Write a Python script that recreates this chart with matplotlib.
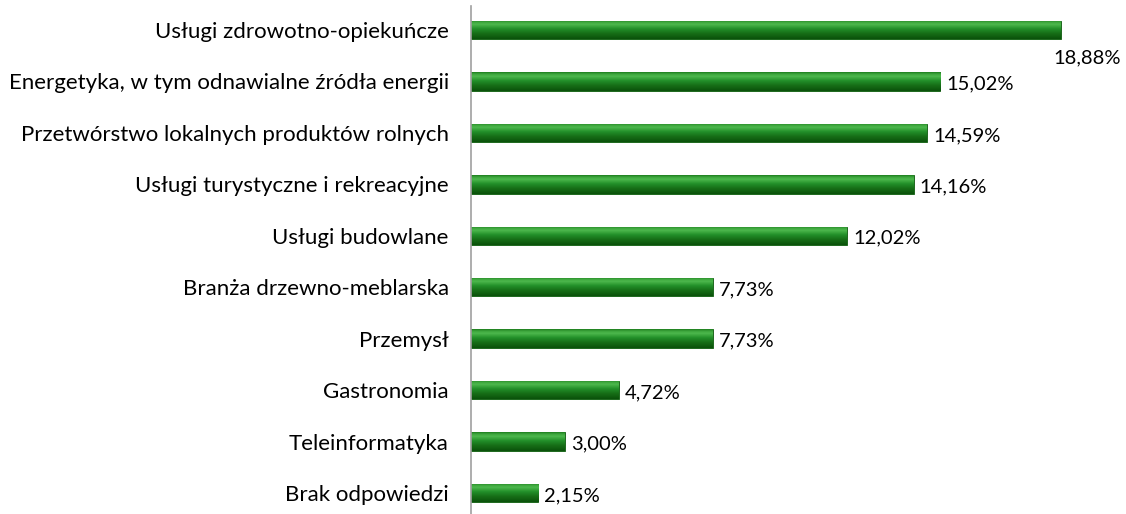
import numpy as np
import matplotlib
matplotlib.use("Agg")
import matplotlib.pyplot as plt
from matplotlib.colors import LinearSegmentedColormap

categories = [
    "Usługi zdrowotno-opiekuńcze",
    "Energetyka, w tym odnawialne źródła energii",
    "Przetwórstwo lokalnych produktów rolnych",
    "Usługi turystyczne i rekreacyjne",
    "Usługi budowlane",
    "Branża drzewno-meblarska",
    "Przemysł",
    "Gastronomia",
    "Teleinformatyka",
    "Brak odpowiedzi",
]
values = [18.88, 15.02, 14.59, 14.16, 12.02, 7.73, 7.73, 4.72, 3.00, 2.15]
labels = ["18,88%", "15,02%", "14,59%", "14,16%", "12,02%", "7,73%", "7,73%", "4,72%", "3,00%", "2,15%"]

plt.rcParams['font.family'] = ['Lato', 'DejaVu Sans']

W, H = 1126, 514
fig = plt.figure(figsize=(W / 100, H / 100), dpi=100)
ax_left = 471 / W
ax_right = 1096 / W
ax = fig.add_axes([ax_left, 0, ax_right - ax_left, 1 - 6 / H])

y = np.arange(len(categories))
bars = ax.barh(y, values, height=0.36, color="#1E8A1E", edgecolor="#0E5A0E", linewidth=0.6)

cmap = LinearSegmentedColormap.from_list(
    "g", [(0.0, "#0B520B"), (0.3, "#176F17"), (0.55, "#23902A"), (0.78, "#4DB84D"), (0.9, "#3CA53C"), (1.0, "#1E7E1E")])
grad = np.linspace(0, 1, 64).reshape(-1, 1)
for b in bars:
    x0, y0 = b.get_x(), b.get_y()
    w, h = b.get_width(), b.get_height()
    im = ax.imshow(grad, cmap=cmap, aspect="auto", origin="lower",
                   extent=[x0, x0 + w, y0 + h, y0], zorder=2)
    im.set_clip_path(b)

ax.set_xlim(0, 20)
ax.set_ylim(9.408, -0.466)

for i, (v, lab) in enumerate(zip(values, labels)):
    if i == 0:
        ax.text(v + 1.9, i + 0.55, lab, ha="right", va="center", fontsize=14.5, color="#000000")
    else:
        ax.text(v + 0.2, i + 0.05, lab, ha="left", va="center", fontsize=14.5, color="#000000")

ax.set_yticks(y)
ax.set_yticklabels(categories, fontsize=16)
ax.tick_params(axis="y", length=0, pad=16)
ax.set_xticks([])
for s in ["top", "right", "bottom"]:
    ax.spines[s].set_visible(False)
ax.spines["left"].set_color("#A0A0A0")
ax.spines["left"].set_linewidth(1.2)
ax.set_facecolor("none")

fig.savefig("out.png", dpi=100)
